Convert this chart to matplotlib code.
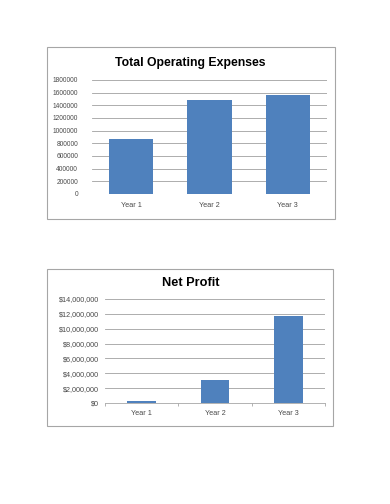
import matplotlib.pyplot as plt
from matplotlib.patches import Rectangle
from matplotlib.ticker import FuncFormatter

years = ["Year 1", "Year 2", "Year 3"]
expenses = [870000, 1480000, 1570000]
net_profit = [300000, 3050000, 11700000]

W, H = 390, 504
BLUE = "#4f81bd"
FONT = ["Liberation Sans Narrow", "DejaVu Sans Condensed", "Liberation Sans"]


def px_axes(fig, x0, y0, x1, y1):
    return fig.add_axes([x0 / W, 1 - y1 / H, (x1 - x0) / W, (y1 - y0) / H])


def frame(fig, x0, y0, x1, y1):
    fig.patches.append(Rectangle((x0 / W, 1 - y1 / H), (x1 - x0) / W, (y1 - y0) / H,
                                 transform=fig.transFigure, fill=False,
                                 edgecolor="#a6a6a6", linewidth=0.8))


def style(ax, size, pad):
    for s in ["top", "right", "left"]:
        ax.spines[s].set_visible(False)
    ax.spines["bottom"].set_color("#a6a6a6")
    ax.spines["bottom"].set_linewidth(0.6)
    ax.yaxis.grid(True, color="#a0a0a0", linewidth=0.6)
    ax.set_axisbelow(True)
    ax.tick_params(axis="y", length=0, labelsize=size, colors="#4a4a4a", pad=pad)
    for lab in ax.get_yticklabels() + ax.get_xticklabels():
        lab.set_family(FONT)


fig = plt.figure(figsize=(W / 100, H / 100), dpi=100)

# Chart 1
frame(fig, 47, 47, 335, 219)
ax1 = px_axes(fig, 92, 80, 327, 194)
ax1.bar(years, expenses, width=0.57, color=BLUE)
ax1.set_ylim(0, 1800000)
ax1.set_yticks(range(0, 1800001, 200000))
ax1.yaxis.set_major_formatter(FuncFormatter(lambda v, p: "{:.0f}".format(v)))
ax1.set_xlim(-0.5, 2.5)
ax1.tick_params(axis="x", length=0, labelsize=5.2, colors="#4a4a4a", pad=6)
style(ax1, 4.8, 10)
ax1.spines["bottom"].set_visible(False)
fig.text(190 / W, 1 - 63 / H, "Total Operating Expenses", ha="center", va="center",
         fontsize=8.8, fontweight="bold", family=FONT)

# Chart 2
frame(fig, 47, 269, 333, 426)
ax2 = px_axes(fig, 105, 299, 325, 403)
ax2.bar(years, net_profit, width=0.39, color=BLUE)
ax2.set_ylim(0, 14000000)
ax2.set_yticks(range(0, 14000001, 2000000))
ax2.yaxis.set_major_formatter(FuncFormatter(lambda v, p: "${:,.0f}".format(v)))
ax2.set_xlim(-0.5, 2.5)
ax2.set_xticks([-0.5, 0.5, 1.5, 2.5], minor=True)
ax2.tick_params(axis="x", which="major", length=0, labelsize=5.2, colors="#4a4a4a", pad=5)
ax2.tick_params(axis="x", which="minor", length=2, color="#a6a6a6", width=0.6)
style(ax2, 5.2, 4)
fig.text(191 / W, 1 - 283 / H, "Net Profit", ha="center", va="center",
         fontsize=9.2, fontweight="bold", family=FONT)

fig.savefig("out.png", dpi=100)
